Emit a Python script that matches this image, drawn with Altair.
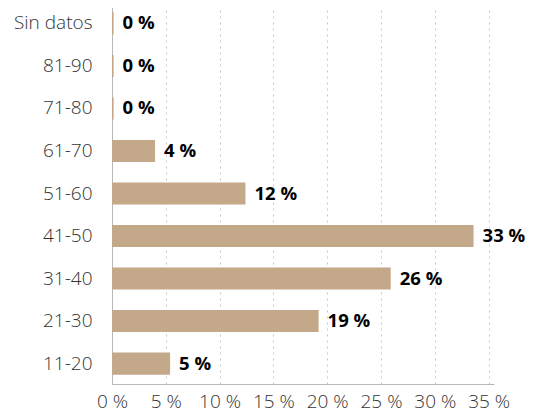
import altair as alt
import pandas as pd

categories = ["Sin datos", "81-90", "71-80", "61-70", "51-60", "41-50", "31-40", "21-30", "11-20"]
values = [0.15, 0.15, 0.15, 4.0, 12.4, 33.6, 25.9, 19.2, 5.4]
labels = ["0 %", "0 %", "0 %", "4 %", "12 %", "33 %", "26 %", "19 %", "5 %"]
x_ticks = [0, 5, 10, 15, 20, 25, 30, 35]

df = pd.DataFrame({"cat": categories, "val": values, "lab": labels})

FONT = "Open Sans"

y_enc = alt.Y(
    "cat:N",
    sort=categories,
    scale=alt.Scale(paddingInner=0.48, paddingOuter=0.22),
    axis=alt.Axis(
        title=None,
        ticks=False,
        labelPadding=20,
        labelFont=FONT,
        labelFontSize=19,
        labelFontWeight=300,
        labelColor="#333333",
        domainColor="#b8b8b8",
        grid=False,
    ),
)

x_enc = alt.X(
    "val:Q",
    scale=alt.Scale(domain=[0, 35.5], nice=False, zero=True),
    axis=alt.Axis(
        title=None,
        values=x_ticks,
        labelExpr="datum.value + ' %'",
        ticks=False,
        labelPadding=8,
        labelFont=FONT,
        labelFontSize=19,
        labelFontWeight=300,
        labelColor="#333333",
        domainColor="#b8b8b8",
        grid=True,
        gridColor="#c8c8c8",
        gridDash=[2, 4],
        gridWidth=1,
        labelFlush=False,
    ),
)

bars = alt.Chart(df).mark_bar(color="#c4a88a").encode(y=y_enc, x=x_enc)

text = alt.Chart(df).mark_text(
    align="left", baseline="middle", dx=9, font=FONT, fontSize=18.5,
    fontWeight="bold", color="#000000"
).encode(y=alt.Y("cat:N", sort=categories), x="val:Q", text="lab:N")

chart = (
    alt.layer(bars, text)
    .properties(width=382, height=381, padding={"top": -5, "left": 5, "right": 0, "bottom": 5})
    .configure_view(stroke=None)
)

chart.save("out.html", embed_options={"renderer": "svg", "actions": False})
